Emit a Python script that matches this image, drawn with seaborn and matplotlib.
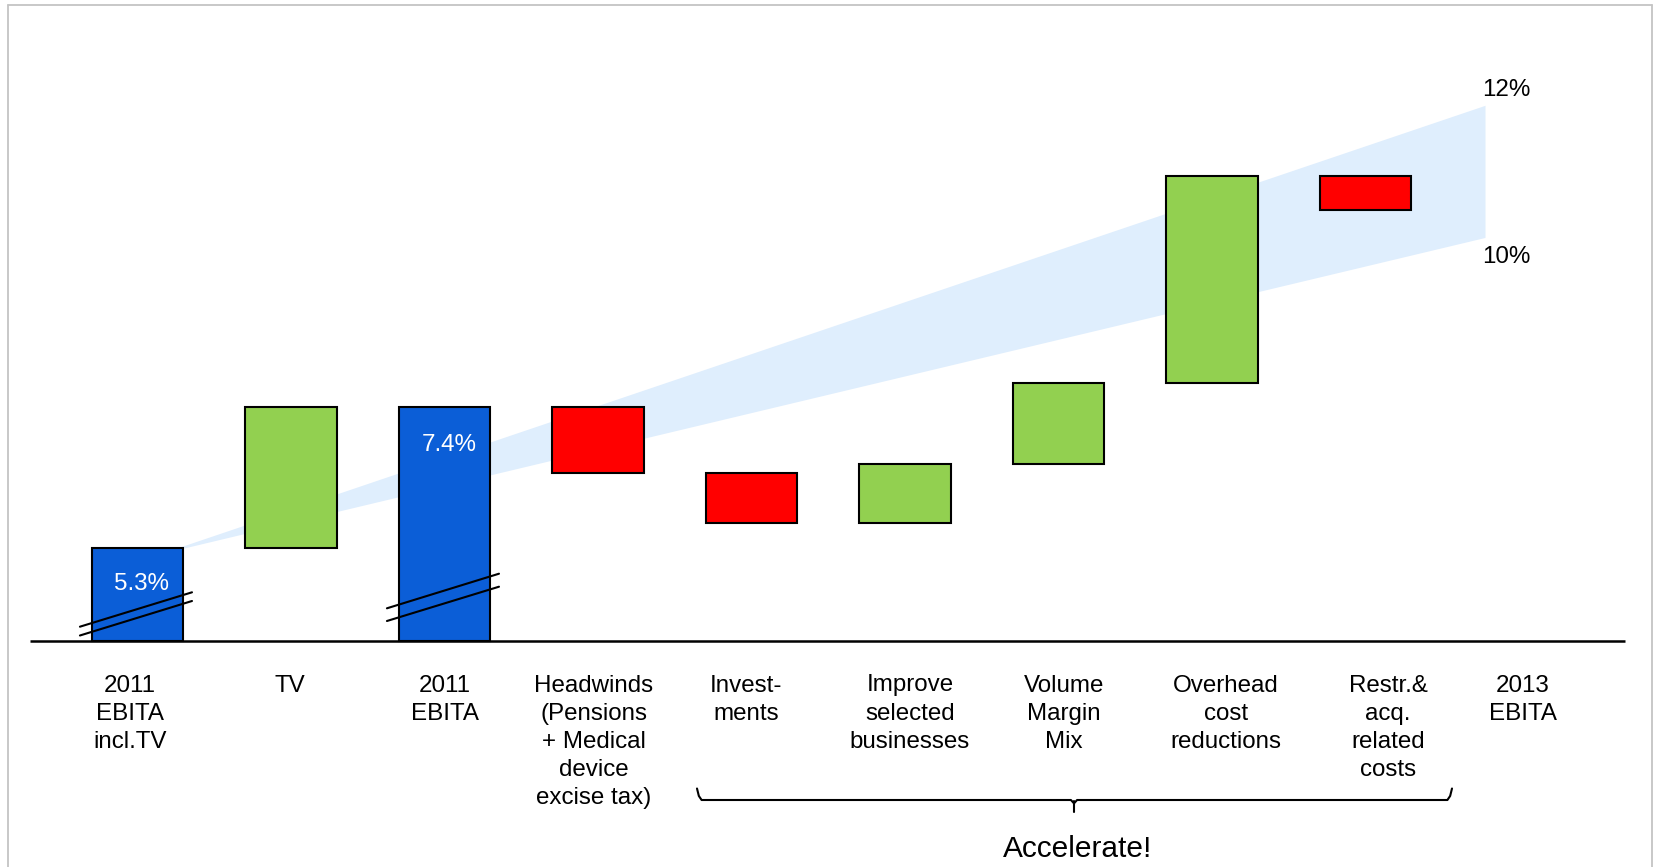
import numpy as np
import pandas as pd
import matplotlib
matplotlib.use("Agg")
import matplotlib.pyplot as plt
from matplotlib.lines import Line2D
import seaborn as sns

# ---------------- data ----------------
categories = [
    "2011\nEBITA\nincl.TV", "TV", "2011\nEBITA",
    "Headwinds\n(Pensions\n+ Medical\ndevice\nexcise tax)",
    "Invest-\nments", "Improve\nselected\nbusinesses", "Volume\nMargin\nMix",
    "Overhead\ncost\nreductions", "Restr.&\nacq.\nrelated\ncosts", "2013\nEBITA",
]
ebita_incl_tv = 5.3
tv_effect = 2.1
ebita_2011 = 7.4
step_deltas = [-0.98, -0.75, 0.88, 1.20, 3.07, -0.50]   # Headwinds .. Restr.
axis_base = 3.92          # value at the (broken) baseline
bar_labels = ["5.3%", "7.4%"]
target_high = 11.87       # upper edge of target band at its right end (12%)
target_low = 9.91         # lower edge of target band at its right end (10%)
band_start = 5.22         # band apex value
band_labels = ["12%", "10%"]
group_label = "Accelerate!"

# waterfall bottoms / tops
bottoms = [axis_base, ebita_incl_tv, axis_base]
tops = [ebita_incl_tv, ebita_incl_tv + tv_effect, ebita_2011]
kinds = ["total", "up", "total"]
level = ebita_2011
for d in step_deltas:
    new = level + d
    bottoms.append(min(level, new))
    tops.append(max(level, new))
    kinds.append("up" if d > 0 else "down")
    level = new

df = pd.DataFrame({
    "cat": categories[:len(bottoms)],
    "height": np.array(tops) - np.array(bottoms),
    "kind": kinds,
})

# ---------------- style ----------------
sns.set_style("white")
plt.rcParams["font.family"] = ["Liberation Sans", "DejaVu Sans"]
plt.rcParams["text.color"] = "black"

W, H = 1659, 867
fig = plt.figure(figsize=(W / 100, H / 100), dpi=100)
ax = fig.add_axes([0, 0, 1, 1])

# pixel -> data helpers (layout only)
X0, DX = 137.5, 153.5
Y74, DY = 406.7, 67.43
def X(px):
    return (px - X0) / DX
def Y(py):
    return ebita_2011 - (py - Y74) / DY

palette = {"total": "#0B5ED7", "up": "#92D050", "down": "#FF0000"}
sns.barplot(data=df, x="cat", y="height", hue="kind", order=categories,
            hue_order=["total", "up", "down"], palette=palette, dodge=False,
            width=0.593, saturation=1, errorbar=None, legend=False,
            edgecolor="black", linewidth=1.5, zorder=3, ax=ax)

for p in ax.patches:
    i = int(round(p.get_x() + p.get_width() / 2))
    p.set_y(bottoms[i])
    p.set_height(tops[i] - bottoms[i])

ax.set_xlim(X(0), X(W))
ax.set_ylim(Y(H), Y(0))
ax.axis("off")

# target band (fan)
band_x = [X(160), X(1485)]
ax.fill_between(band_x, [band_start, target_low], [band_start, target_high],
                color="#DFEEFD", lw=0, zorder=1)

# baseline
ax.plot([X(30), X(1625)], [axis_base, axis_base], color="black", lw=1.8,
        zorder=5, solid_capstyle="butt")

# break marks on the two total bars
for c, (u0, u1, l0, l1) in zip([0, 2], [(Y(626.7), Y(592.3), Y(635.5), Y(601.0)),
                                        (Y(608.3), Y(573.7), Y(621.0), Y(586.7))]):
    ax.plot([c - 0.375, c + 0.355], [u0, u1], color="black", lw=1.5, zorder=6)
    ax.plot([c - 0.375, c + 0.355], [l0, l1], color="black", lw=1.5, zorder=6)

# value labels inside bars
ax.text(X(141.7), Y(583.5), bar_labels[0], color="white", fontsize=17.4,
        ha="center", va="center", zorder=7)
ax.text(X(449.7), Y(445), bar_labels[1], color="white", fontsize=17.4,
        ha="center", va="center", zorder=7)

# band labels
ax.text(X(1482), Y(90), band_labels[0], fontsize=17.4, ha="left", va="center",
        color="black")
ax.text(X(1482), Y(257), band_labels[1], fontsize=17.4, ha="left", va="center",
        color="black")

# category labels
label_px = [130, 290, 444.6, 594, 746, 910, 1064, 1226, 1388, 1523]
for lab, px in zip(categories, label_px):
    ax.text(X(px), Y(674.5), lab, fontsize=17.4, ha="center", va="top",
            multialignment="center", linespacing=1.36, color="black")

# brace under the "Accelerate!" group
bx0, bxc, bx1 = X(697), X(1074), X(1452)
by_top, by_mid, by_bot = Y(788.5), Y(800), Y(811.5)
ax.plot([bx0, bx0 + 0.012, bx0 + 0.03, bxc - 0.02, bxc],
        [by_top, by_mid + 0.06, by_mid, by_mid, by_mid - 0.05],
        color="black", lw=1.5, solid_capstyle="round")
ax.plot([bxc, bxc + 0.02, bx1 - 0.03, bx1 - 0.012, bx1],
        [by_mid - 0.05, by_mid, by_mid, by_mid + 0.06, by_top],
        color="black", lw=1.5, solid_capstyle="round")
ax.plot([bxc, bxc], [by_mid - 0.02, by_bot], color="black", lw=1.5)
ax.text(X(1078), Y(835), group_label, fontsize=21.5, ha="center",
        va="top", color="black")

# light grey frame
fc = "#C4C4C4"
fig.add_artist(Line2D([8 / W, 8 / W], [0, 1 - 4.5 / H], transform=fig.transFigure,
                      color=fc, lw=1.3))
fig.add_artist(Line2D([8 / W, 1652 / W], [1 - 4.5 / H, 1 - 4.5 / H],
                      transform=fig.transFigure, color=fc, lw=1.3))
fig.add_artist(Line2D([1652 / W, 1652 / W], [0, 1 - 4.5 / H],
                      transform=fig.transFigure, color=fc, lw=1.3))

fig.savefig("out.png", dpi=100, facecolor="white")
